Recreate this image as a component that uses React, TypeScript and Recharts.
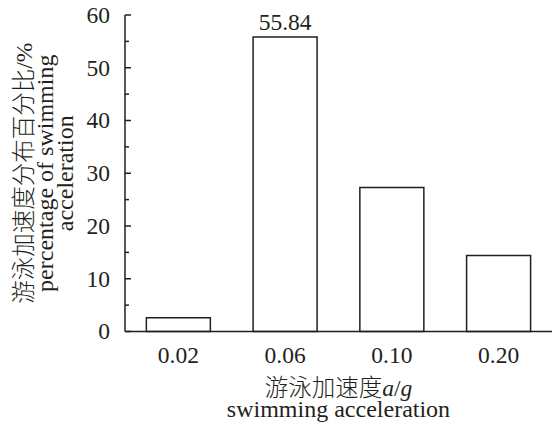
import React from "react";
import { BarChart, Bar, XAxis, YAxis, LabelList } from "recharts";

const categories = ["0.02", "0.06", "0.10", "0.20"];
const percentages = [2.6, 55.84, 27.3, 14.4];
const barLabels = ["", "55.84", "", ""];
const yTicks = [0, 5, 10, 15, 20, 25, 30, 35, 40, 45, 50, 55, 60];
const yTitleCn = "游泳加速度分布百分比";
const yTitleUnit = "/%";
const yTitleEn1 = "percentage of swimming";
const yTitleEn2 = "acceleration";
const xTitleCn = "游泳加速度";
const xTitleEn = "swimming acceleration";

const data = categories.map((c, i) => ({ cat: c, value: percentages[i], label: barLabels[i] }));

const INK = "#231f20";
const FONT = "Liberation Serif, serif";
const CJK = "Noto Sans CJK SC, sans-serif";

const YTick = (props: any) => {
  const { x, y, payload } = props;
  const v = payload.value;
  const major = v % 10 === 0;
  return (
    <g>
      <line x1={x} x2={x + (major ? 6 : 4)} y1={y} y2={y} stroke={INK} strokeWidth={1.5} />
      {major && (
        <text x={x - 15} y={y} dy="0.33em" textAnchor="end" fill={INK} fontSize={23.5} fontFamily={FONT}>
          {v}
        </text>
      )}
    </g>
  );
};

const XTick = (props: any) => {
  const { x, y, payload } = props;
  return (
    <text x={x} y={y + 31} textAnchor="middle" fill={INK} fontSize={23.5} fontFamily={FONT}>
      {payload.value}
    </text>
  );
};

const YTitle = (props: any) => {
  const vb = props.viewBox || {};
  const cy = vb.y + vb.height / 2;
  return (
    <g>
      <text transform="rotate(-90)" x={-cy} y={32} textAnchor="middle" fill={INK} fontSize={23.5} fontFamily={FONT}>
        <tspan fontFamily={CJK} fontWeight={300}>{yTitleCn}</tspan>
        <tspan>{yTitleUnit}</tspan>
      </text>
      <text transform="rotate(-90)" x={-cy} y={52.5} textAnchor="middle" fill={INK} fontSize={24} fontFamily={FONT}>
        {yTitleEn1}
      </text>
      <text transform="rotate(-90)" x={-cy} y={73} textAnchor="middle" fill={INK} fontSize={24} fontFamily={FONT}>
        {yTitleEn2}
      </text>
    </g>
  );
};

const XTitle = (props: any) => {
  const vb = props.viewBox || {};
  const cx = vb.x + vb.width / 2;
  const y0 = vb.y;
  return (
    <g>
      <text x={cx} y={y0 + 64.5} textAnchor="middle" fill={INK} fontSize={23.5} fontFamily={FONT}>
        <tspan fontFamily={CJK} fontWeight={300}>{xTitleCn}</tspan>
        <tspan fontStyle="italic">a</tspan>
        <tspan>/</tspan>
        <tspan fontStyle="italic">g</tspan>
      </text>
      <text x={cx} y={y0 + 85} textAnchor="middle" fill={INK} fontSize={24} fontFamily={FONT}>
        {xTitleEn}
      </text>
    </g>
  );
};

const BarValueLabel = (props: any) => {
  const { x, y, width, value } = props;
  if (!value) return null;
  return (
    <text x={x + width / 2} y={y - 7} textAnchor="middle" fill={INK} fontSize={23.5} fontFamily={FONT}>
      {value}
    </text>
  );
};

export default function App() {
  return (
    <div style={{ position: "absolute", left: 0, top: 0, width: 552, height: 424, background: "#fff" }}>
      <BarChart
        width={552}
        height={424}
        data={data}
        margin={{ top: 15, right: 0, left: 0, bottom: 0 }}
        barCategoryGap="20%"
      >
        <XAxis
          dataKey="cat"
          height={92.5}
          axisLine={{ stroke: INK, strokeWidth: 1.5 }}
          tickLine={false}
          tickSize={0}
          tickMargin={0}
          tick={<XTick />}
          interval={0}
          label={XTitle}
        />
        <YAxis
          width={125}
          domain={[0, 60]}
          ticks={yTicks}
          interval={0}
          axisLine={{ stroke: INK, strokeWidth: 1.5 }}
          tickLine={false}
          tickSize={0}
          tickMargin={0}
          tick={<YTick />}
          label={YTitle}
        />
        <Bar dataKey="value" fill="#ffffff" stroke={INK} strokeWidth={1.5} isAnimationActive={false}>
          <LabelList dataKey="label" content={<BarValueLabel />} />
        </Bar>
      </BarChart>
    </div>
  );
}
